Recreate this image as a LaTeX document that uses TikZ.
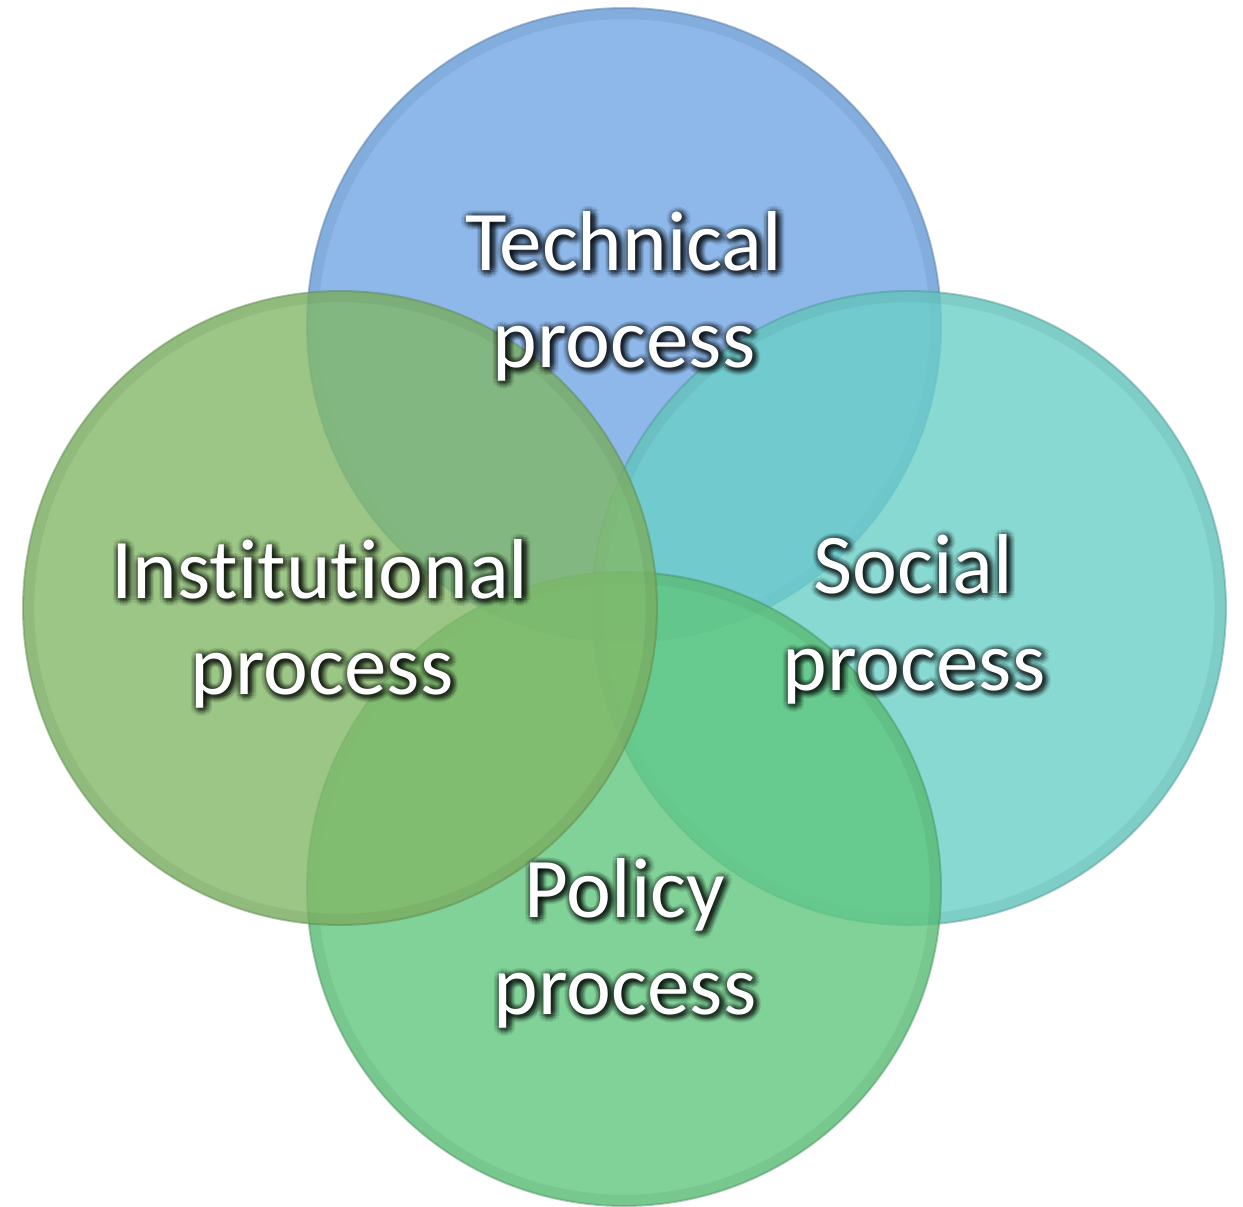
\documentclass[tikz,border=0pt]{standalone}
\usepackage{fontspec}
\setmainfont{Carlito}[Ligatures=NoCommon, RawFeature={-calt}]
\usetikzlibrary{calc}

\definecolor{techC}{RGB}{112,166,228}
\definecolor{socC}{RGB}{106,207,199}
\definecolor{polC}{RGB}{96,199,126}
\definecolor{instC}{RGB}{130,184,104}

\tikzset{
  bubble/.style={fill=#1, fill opacity=0.8, draw=#1!70!black, draw opacity=0.45, line width=1.1pt},
  rim/.style={draw=#1!60!black, draw opacity=0.12, line width=6pt},
  labeltxt/.style={text=white, font=\fontsize{48.4}{55}\selectfont, inner sep=0pt, anchor=base},
}

% white text over a soft dark halo, all within one box
\newcommand\halotext[1]{%
  \makebox[0pt][l]{%
    \begin{pgfscope}\pgfsetfillopacity{0.075}\color{black}%
    \foreach \ang in {0,30,...,330}{%
      \foreach \rad in {1.3,2.6,3.9}{%
        \pgfmathsetlengthmacro\dx{1.14pt+\rad*cos(\ang)*1pt}%
        \pgfmathsetlengthmacro\dy{-1.14pt+\rad*sin(\ang)*1pt}%
        \makebox[0pt][l]{\hspace*{\dx}\raisebox{\dy}{#1}}%
      }%
    }%
    \end{pgfscope}}%
  #1}

\begin{document}
\begin{tikzpicture}[x=0.02cm, y=-0.02cm]
  \useasboundingbox (0,0) rectangle (1243,1206);

  \coordinate (ctech) at (624,325);
  \coordinate (csoc)  at (909,608);
  \coordinate (cpol)  at (624,889);
  \coordinate (cinst) at (340,608);

  % circles, back to front
  \foreach \c/\col in {ctech/techC, csoc/socC, cpol/polC, cinst/instC}{
    \fill[bubble=\col] (\c) circle (317);
    \draw[rim=\col] (\c) circle (311);
  }

  % labels
  \node[labeltxt] (tech1) at (624,270)  {\halotext{Technical}};
  \node[labeltxt] (tech2) at (624,367)  {\halotext{process}};
  \node[labeltxt] (inst1) at (320,598)  {\halotext{Institutional}};
  \node[labeltxt] (inst2) at (322,694)  {\halotext{process}};
  \node[labeltxt] (soc1)  at (913,593)  {\halotext{Social}};
  \node[labeltxt] (soc2)  at (914,690)  {\halotext{process}};
  \node[labeltxt] (pol1)  at (625,917)  {\halotext{Policy}};
  \node[labeltxt] (pol2)  at (625,1014) {\halotext{process}};
\end{tikzpicture}
\end{document}
